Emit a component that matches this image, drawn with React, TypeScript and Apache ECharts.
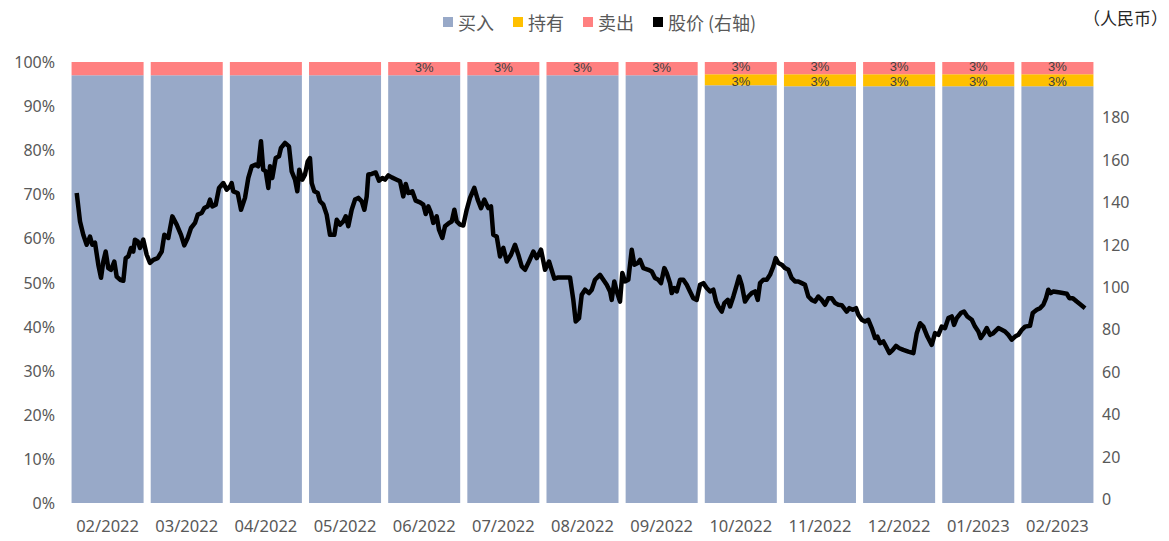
import React, { useEffect, useRef } from "react";
import * as echarts from "echarts";

const months = ["02/2022", "03/2022", "04/2022", "05/2022", "06/2022", "07/2022", "08/2022", "09/2022", "10/2022", "11/2022", "12/2022", "01/2023", "02/2023"];
const buyPct = [97, 97, 97, 97, 97, 97, 97, 97, 94.7, 94.5, 94.5, 94.5, 94.5];
const holdPct = [0, 0, 0, 0, 0, 0, 0, 0, 2.5, 2.7, 2.7, 2.7, 2.7];
const sellPct = [3, 3, 3, 3, 3, 3, 3, 3, 2.8, 2.8, 2.8, 2.8, 2.8];
const sellLabelShown = [false, false, false, false, true, true, true, true, true, true, true, true, true];

const rightTicks = [0, 20, 40, 60, 80, 100, 120, 140, 160, 180];

// price time position, in months from the start of 02/2022 (one bar = one month)
const priceMonthPos = [
  0.110, 0.152, 0.193, 0.236, 0.278, 0.307, 0.341, 0.383, 0.417, 0.446, 0.476, 0.509, 0.543, 0.585, 0.615, 0.657, 0.699, 0.729, 0.762, 0.796,
  0.825, 0.846, 0.881, 0.910, 0.951, 0.994, 1.036, 1.078, 1.133, 1.184, 1.217, 1.267, 1.318, 1.373, 1.428, 1.469, 1.512, 1.554, 1.605, 1.639,
  1.689, 1.722, 1.765, 1.794, 1.823, 1.866, 1.908, 1.962, 2.005, 2.047, 2.068, 2.088, 2.144, 2.186, 2.236, 2.278, 2.321, 2.371, 2.404, 2.438,
  2.467, 2.498, 2.531, 2.552, 2.581, 2.624, 2.666, 2.691, 2.742, 2.792, 2.826, 2.868, 2.897, 2.922, 2.960, 2.994, 3.028, 3.057, 3.079, 3.112,
  3.155, 3.184, 3.226, 3.268, 3.310, 3.365, 3.395, 3.437, 3.478, 3.509, 3.541, 3.584, 3.626, 3.668, 3.711, 3.744, 3.774, 3.794, 3.837, 3.888,
  3.929, 3.971, 4.005, 4.047, 4.090, 4.153, 4.195, 4.236, 4.267, 4.300, 4.350, 4.393, 4.447, 4.489, 4.519, 4.552, 4.586, 4.615, 4.658, 4.687,
  4.729, 4.763, 4.814, 4.848, 4.881, 4.911, 4.953, 4.994, 5.037, 5.079, 5.133, 5.176, 5.218, 5.260, 5.310, 5.344, 5.373, 5.416, 5.458, 5.500,
  5.543, 5.597, 5.647, 5.689, 5.732, 5.774, 5.824, 5.879, 5.922, 5.976, 6.027, 6.077, 6.144, 6.195, 6.258, 6.342, 6.384, 6.414, 6.456, 6.490,
  6.532, 6.582, 6.617, 6.658, 6.721, 6.763, 6.806, 6.848, 6.869, 6.902, 6.932, 6.974, 7.003, 7.037, 7.079, 7.122, 7.155, 7.198, 7.227, 7.269,
  7.332, 7.375, 7.416, 7.458, 7.492, 7.534, 7.564, 7.606, 7.627, 7.660, 7.691, 7.732, 7.774, 7.817, 7.858, 7.900, 7.943, 7.985, 8.027, 8.069,
  8.111, 8.153, 8.187, 8.216, 8.259, 8.292, 8.335, 8.364, 8.406, 8.449, 8.478, 8.512, 8.553, 8.595, 8.638, 8.680, 8.714, 8.743, 8.785, 8.828,
  8.869, 8.911, 8.941, 8.974, 9.017, 9.059, 9.101, 9.143, 9.185, 9.227, 9.270, 9.311, 9.353, 9.396, 9.438, 9.479, 9.522, 9.564, 9.606, 9.649,
  9.691, 9.732, 9.775, 9.838, 9.871, 9.914, 9.956, 9.985, 10.028, 10.069, 10.111, 10.154, 10.196, 10.225, 10.259, 10.301, 10.335, 10.377, 10.420, 10.461,
  10.503, 10.553, 10.616, 10.680, 10.723, 10.765, 10.806, 10.857, 10.912, 10.954, 10.996, 11.038, 11.080, 11.122, 11.165, 11.194, 11.228, 11.279, 11.320, 11.362,
  11.418, 11.459, 11.501, 11.531, 11.573, 11.607, 11.649, 11.690, 11.754, 11.797, 11.838, 11.880, 11.923, 11.965, 12.006, 12.050, 12.091, 12.154, 12.188, 12.239,
  12.281, 12.322, 12.356, 12.385, 12.416, 12.449, 12.533, 12.618, 12.651, 12.694, 12.744, 12.795, 12.849,
];
const price = [
  146.2, 132.8, 126.5, 121.8, 125.7, 121.8, 122.8, 112.4, 106.2, 113.9, 118.6, 110.8, 110.0, 113.9, 106.8, 105.3, 104.8, 115.5, 116.3, 120.3,
  118.6, 124.2, 123.4, 120.3, 124.2, 117.1, 113.2, 114.7, 115.5, 118.6, 126.5, 125.0, 135.2, 131.3, 126.5, 121.5, 125.0, 129.7, 132.1, 136.0,
  136.8, 139.1, 139.9, 143.1, 139.9, 140.7, 148.6, 150.9, 147.8, 149.3, 150.9, 147.0, 146.2, 138.3, 143.9, 153.3, 158.8, 159.6, 158.8, 170.6,
  157.2, 156.4, 148.6, 158.8, 153.3, 162.7, 163.5, 167.5, 169.8, 168.2, 156.4, 152.5, 147.0, 157.2, 152.5, 154.9, 161.1, 162.7, 150.9, 147.0,
  146.2, 142.3, 140.7, 136.0, 126.5, 126.5, 133.6, 131.3, 132.8, 135.2, 130.5, 138.3, 143.1, 143.9, 142.3, 138.3, 144.6, 154.9, 155.2, 155.9,
  152.0, 153.3, 152.5, 154.5, 153.6, 152.5, 151.7, 144.6, 150.5, 146.2, 147.0, 142.6, 141.8, 140.7, 136.3, 139.9, 136.8, 132.1, 135.2, 128.9,
  125.0, 130.5, 132.1, 132.8, 138.3, 132.8, 131.3, 130.9, 138.3, 143.9, 148.6, 143.1, 139.1, 143.1, 139.1, 139.9, 126.5, 125.7, 116.3, 120.3,
  113.9, 117.1, 121.8, 117.1, 111.6, 110.0, 113.9, 118.6, 115.5, 119.5, 110.0, 113.9, 105.8, 106.4, 106.4, 106.4, 95.8, 85.6, 87.2, 98.2,
  100.6, 99.0, 100.6, 105.3, 107.6, 105.3, 102.9, 99.8, 95.8, 104.5, 99.8, 95.0, 108.5, 104.5, 105.3, 119.5, 112.4, 113.2, 114.7, 110.8,
  110.0, 109.2, 106.1, 105.3, 103.7, 110.8, 108.5, 103.7, 99.0, 101.4, 99.8, 105.3, 105.3, 102.9, 99.8, 96.6, 95.8, 102.9, 103.7, 101.4,
  99.8, 100.6, 95.0, 92.7, 90.3, 94.3, 95.8, 92.7, 97.4, 102.9, 106.8, 102.9, 95.0, 97.4, 99.0, 99.8, 95.8, 103.7, 105.3, 105.3,
  107.6, 111.6, 115.5, 113.2, 112.4, 110.8, 110.0, 106.1, 104.5, 104.5, 103.7, 102.9, 97.4, 95.8, 95.0, 97.4, 95.8, 93.5, 96.6, 96.6,
  94.3, 93.5, 93.3, 90.3, 91.9, 91.1, 91.9, 88.8, 86.4, 85.6, 86.4, 82.5, 77.8, 78.5, 75.4, 76.2, 73.8, 70.7, 72.2, 74.1,
  73.0, 72.2, 71.4, 70.7, 80.1, 84.8, 83.2, 78.5, 74.6, 80.1, 79.3, 83.2, 82.5, 87.2, 88.0, 84.0, 87.2, 89.6, 90.3, 88.0,
  86.4, 83.2, 80.9, 77.8, 80.1, 82.5, 79.3, 80.1, 82.5, 81.7, 80.9, 79.3, 77.0, 78.5, 79.3, 81.7, 83.2, 83.6, 89.6, 91.1,
  91.9, 93.5, 96.6, 100.6, 99.0, 99.8, 99.3, 98.7, 96.6, 96.6, 95.0, 93.5, 91.9,
];

const FONT = "'Noto Sans', 'Noto Sans CJK SC', sans-serif";
const CJK = "'Noto Sans CJK SC', sans-serif";
const GRAY = "#595959";
const LABEL = "#404040";

export default function App() {
  const ref = useRef<HTMLDivElement>(null);
  useEffect(() => {
    if (!ref.current) return;
    const chart = echarts.init(ref.current, undefined, { renderer: "svg" });
    const pctLabel = (p: any) => Math.round(p.value) + "%";
    const lineData = priceMonthPos.map((t, i) => [t, price[i]]);
    const barLabel = (dy: number) => ({
      show: true,
      position: "inside",
      color: LABEL,
      fontSize: 13,
      fontFamily: "'Liberation Sans', Arial, sans-serif",
      lineHeight: 11,
      offset: [0, dy],
      formatter: pctLabel,
    });
    chart.setOption({
      animation: false,
      textStyle: { fontFamily: FONT },
      legend: {
        left: 438,
        top: 8,
        itemWidth: 10,
        itemHeight: 10,
        itemGap: 19,
        icon: "rect",
        textStyle: { fontFamily: CJK, fontSize: 18, color: GRAY },
        data: ["买入", "持有", "卖出", "股价 (右轴)"],
      },
      graphic: [
        {
          type: "text",
          left: 1083,
          top: 9,
          style: { text: "（人民币）", font: `17px ${CJK}`, fill: "#262626" },
        },
      ],
      grid: { left: 68, right: 72, top: 62, bottom: 38 },
      xAxis: [
        {
          type: "category",
          data: months,
          axisLine: { show: false },
          axisTick: { show: false },
          axisLabel: { color: GRAY, fontSize: 16.5, margin: 14, interval: 0, fontFamily: FONT },
        },
        { type: "value", min: 0, max: 13, show: false },
      ],
      yAxis: [
        {
          type: "value",
          min: 0,
          max: 100,
          interval: 10,
          splitLine: { show: false },
          axisLine: { show: false },
          axisTick: { show: false },
          axisLabel: { color: GRAY, fontSize: 16, margin: 13, formatter: "{value}%" },
        },
        {
          type: "value",
          min: 0,
          max: 208,
          interval: 20,
          position: "right",
          splitLine: { show: false },
          axisLine: { show: false },
          axisTick: { show: false },
          axisLabel: {
            color: GRAY,
            fontSize: 16,
            margin: 5,
            verticalAlign: "bottom",
            lineHeight: 8,
            formatter: (v: number) => (rightTicks.indexOf(v) >= 0 ? String(v) : ""),
          },
        },
      ],
      series: [
        {
          name: "买入",
          type: "bar",
          stack: "pct",
          barCategoryGap: "9%",
          itemStyle: { color: "#98A9C8" },
          data: buyPct,
        },
        {
          name: "持有",
          type: "bar",
          stack: "pct",
          itemStyle: { color: "#FFC000" },
          label: barLabel(1.5),
          data: holdPct.map((v) => ({ value: v, label: { show: v > 0 } })),
        },
        {
          name: "卖出",
          type: "bar",
          stack: "pct",
          itemStyle: { color: "#FF8080" },
          label: barLabel(-1.5),
          data: sellPct.map((v, i) => ({ value: v, label: { show: sellLabelShown[i] } })),
        },
        {
          name: "股价 (右轴)",
          type: "line",
          xAxisIndex: 1,
          yAxisIndex: 1,
          showSymbol: false,
          symbol: "none",
          z: 5,
          itemStyle: { color: "#000000" },
          lineStyle: { color: "#000000", width: 4.5, join: "round" },
          data: lineData,
        },
      ],
    });
    return () => chart.dispose();
  }, []);
  return <div ref={ref} style={{ position: "fixed", left: 0, top: 0, width: 1169, height: 541, background: "#fff" }} />;
}
